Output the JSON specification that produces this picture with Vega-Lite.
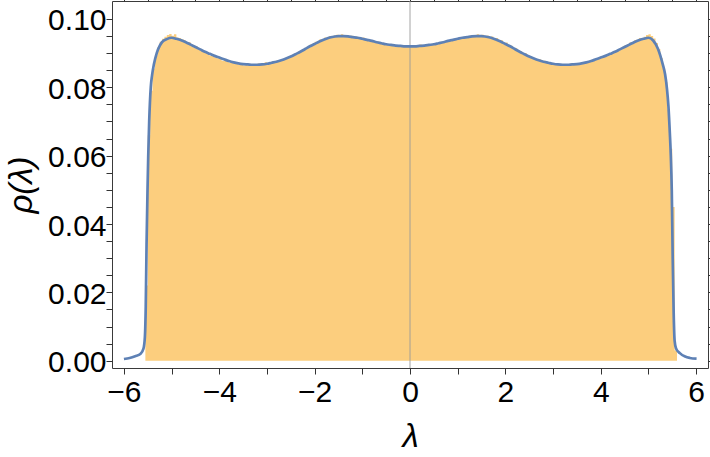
{
  "$schema": "https://vega.github.io/schema/vega-lite/v6.json",
  "width": 596,
  "height": 367,
  "autosize": {"type": "none"},
  "padding": {"left": 112, "top": 1, "right": 2, "bottom": 89},
  "background": "white",
  "config": {
    "view": {"stroke": "#3a3a3a", "strokeWidth": 1},
    "axis": {
      "grid": false, "domain": false,
      "labelFont": "Liberation Sans", "labelFontSize": 30, "labelColor": "#000",
      "titleFont": "Liberation Sans", "titleFontSize": 33, "titleFontStyle": "italic", "titleFontWeight": "normal", "titleColor": "#000",
      "tickColor": "#333", "tickWidth": 1, "tickSize": 6, "ticks": true,
      "labelOverlap": false, "labelFlush": false, "labelBound": false
    }
  },
  "datasets": {
    "hist": [
      {"x":-5.55,"p":0.022},{"x":-5.50,"p":0.066},{"x":-5.45,"p":0.079},{"x":-5.40,"p":0.0855},{"x":-5.35,"p":0.0893},
      {"x":-5.30,"p":0.0917},{"x":-5.25,"p":0.0933},{"x":-5.20,"p":0.0942},{"x":-5.15,"p":0.0948},{"x":-5.10,"p":0.0953},
      {"x":-5.05,"p":0.0956},{"x":-5.00,"p":0.0951},{"x":-4.95,"p":0.0955},{"x":-4.90,"p":0.0946},{"x":-4.85,"p":0.0944},
      {"x":-4.80,"p":0.0941},{"x":-4.75,"p":0.0938},{"x":-4.70,"p":0.0930},{"x":-4.65,"p":0.0932},{"x":-4.60,"p":0.0925},
      {"x":-4.55,"p":0.0917},{"x":-4.50,"p":0.0920},{"x":-4.45,"p":0.0911},{"x":-4.40,"p":0.0910},{"x":-4.35,"p":0.0903},
      {"x":-4.30,"p":0.0904},{"x":-4.25,"p":0.0897},{"x":-4.20,"p":0.0892},{"x":-4.15,"p":0.0894},{"x":-4.10,"p":0.0887},
      {"x":-4.05,"p":0.0885},{"x":-4.00,"p":0.0884},{"x":-3.95,"p":0.0878},{"x":-3.90,"p":0.0881},{"x":-3.85,"p":0.0875},
      {"x":-3.80,"p":0.0872},{"x":-3.75,"p":0.0874},{"x":-3.70,"p":0.0869},{"x":-3.65,"p":0.0870},{"x":-3.60,"p":0.0866},
      {"x":-3.55,"p":0.0871},{"x":-3.50,"p":0.0864},{"x":-3.45,"p":0.0866},{"x":-3.40,"p":0.0869},{"x":-3.35,"p":0.0863},
      {"x":-3.30,"p":0.0867},{"x":-3.25,"p":0.0865},{"x":-3.20,"p":0.0870},{"x":-3.15,"p":0.0866},{"x":-3.10,"p":0.0868},
      {"x":-3.05,"p":0.0873},{"x":-3.00,"p":0.0869},{"x":-2.95,"p":0.0871},{"x":-2.90,"p":0.0876},{"x":-2.85,"p":0.0874},
      {"x":-2.80,"p":0.0879},{"x":-2.75,"p":0.0877},{"x":-2.70,"p":0.0883},{"x":-2.65,"p":0.0884},{"x":-2.60,"p":0.0889},
      {"x":-2.55,"p":0.0887},{"x":-2.50,"p":0.0894},{"x":-2.45,"p":0.0896},{"x":-2.40,"p":0.0899},{"x":-2.35,"p":0.0905},
      {"x":-2.30,"p":0.0903},{"x":-2.25,"p":0.0911},{"x":-2.20,"p":0.0914},{"x":-2.15,"p":0.0917},{"x":-2.10,"p":0.0925},
      {"x":-2.05,"p":0.0926},{"x":-2.00,"p":0.0933},{"x":-1.95,"p":0.0935},{"x":-1.90,"p":0.0941},{"x":-1.85,"p":0.0940},
      {"x":-1.80,"p":0.0946},{"x":-1.75,"p":0.0944},{"x":-1.70,"p":0.0950},{"x":-1.65,"p":0.0948},{"x":-1.60,"p":0.0952},
      {"x":-1.55,"p":0.0954},{"x":-1.50,"p":0.0950},{"x":-1.45,"p":0.0955},{"x":-1.40,"p":0.0951},{"x":-1.35,"p":0.0953},
      {"x":-1.30,"p":0.0948},{"x":-1.25,"p":0.0951},{"x":-1.20,"p":0.0946},{"x":-1.15,"p":0.0949},{"x":-1.10,"p":0.0944},
      {"x":-1.05,"p":0.0943},{"x":-1.00,"p":0.0946},{"x":-0.95,"p":0.0939},{"x":-0.90,"p":0.0940},{"x":-0.85,"p":0.0935},
      {"x":-0.80,"p":0.0938},{"x":-0.75,"p":0.0931},{"x":-0.70,"p":0.0934},{"x":-0.65,"p":0.0928},{"x":-0.60,"p":0.0930},
      {"x":-0.55,"p":0.0925},{"x":-0.50,"p":0.0927},{"x":-0.45,"p":0.0922},{"x":-0.40,"p":0.0926},{"x":-0.35,"p":0.0920},
      {"x":-0.30,"p":0.0924},{"x":-0.25,"p":0.0921},{"x":-0.20,"p":0.0918},{"x":-0.15,"p":0.0923},{"x":-0.10,"p":0.0919},
      {"x":-0.05,"p":0.0922},{"x":0.00,"p":0.0920},{"x":0.05,"p":0.0923},{"x":0.10,"p":0.0919},{"x":0.15,"p":0.0921},
      {"x":0.20,"p":0.0925},{"x":0.25,"p":0.0921},{"x":0.30,"p":0.0923},{"x":0.35,"p":0.0927},{"x":0.40,"p":0.0924},
      {"x":0.45,"p":0.0926},{"x":0.50,"p":0.0930},{"x":0.55,"p":0.0926},{"x":0.60,"p":0.0931},{"x":0.65,"p":0.0933},
      {"x":0.70,"p":0.0931},{"x":0.75,"p":0.0937},{"x":0.80,"p":0.0936},{"x":0.85,"p":0.0940},{"x":0.90,"p":0.0938},
      {"x":0.95,"p":0.0943},{"x":1.00,"p":0.0942},{"x":1.05,"p":0.0946},{"x":1.10,"p":0.0944},{"x":1.15,"p":0.0949},
      {"x":1.20,"p":0.0947},{"x":1.25,"p":0.0952},{"x":1.30,"p":0.0949},{"x":1.35,"p":0.0953},{"x":1.40,"p":0.0955},
      {"x":1.45,"p":0.0951},{"x":1.50,"p":0.0954},{"x":1.55,"p":0.0950},{"x":1.60,"p":0.0952},{"x":1.65,"p":0.0947},
      {"x":1.70,"p":0.0949},{"x":1.75,"p":0.0943},{"x":1.80,"p":0.0944},{"x":1.85,"p":0.0937},{"x":1.90,"p":0.0938},
      {"x":1.95,"p":0.0930},{"x":2.00,"p":0.0931},{"x":2.05,"p":0.0923},{"x":2.10,"p":0.0922},{"x":2.15,"p":0.0914},
      {"x":2.20,"p":0.0915},{"x":2.25,"p":0.0907},{"x":2.30,"p":0.0906},{"x":2.35,"p":0.0899},{"x":2.40,"p":0.0900},
      {"x":2.45,"p":0.0893},{"x":2.50,"p":0.0891},{"x":2.55,"p":0.0888},{"x":2.60,"p":0.0886},{"x":2.65,"p":0.0881},
      {"x":2.70,"p":0.0882},{"x":2.75,"p":0.0876},{"x":2.80,"p":0.0878},{"x":2.85,"p":0.0872},{"x":2.90,"p":0.0874},
      {"x":2.95,"p":0.0869},{"x":3.00,"p":0.0871},{"x":3.05,"p":0.0866},{"x":3.10,"p":0.0869},{"x":3.15,"p":0.0864},
      {"x":3.20,"p":0.0868},{"x":3.25,"p":0.0865},{"x":3.30,"p":0.0867},{"x":3.35,"p":0.0870},{"x":3.40,"p":0.0865},
      {"x":3.45,"p":0.0869},{"x":3.50,"p":0.0867},{"x":3.55,"p":0.0871},{"x":3.60,"p":0.0869},{"x":3.65,"p":0.0873},
      {"x":3.70,"p":0.0872},{"x":3.75,"p":0.0877},{"x":3.80,"p":0.0875},{"x":3.85,"p":0.0880},{"x":3.90,"p":0.0882},
      {"x":3.95,"p":0.0884},{"x":4.00,"p":0.0889},{"x":4.05,"p":0.0888},{"x":4.10,"p":0.0894},{"x":4.15,"p":0.0896},
      {"x":4.20,"p":0.0900},{"x":4.25,"p":0.0905},{"x":4.30,"p":0.0906},{"x":4.35,"p":0.0912},{"x":4.40,"p":0.0914},
      {"x":4.45,"p":0.0919},{"x":4.50,"p":0.0923},{"x":4.55,"p":0.0925},{"x":4.60,"p":0.0931},{"x":4.65,"p":0.0932},
      {"x":4.70,"p":0.0938},{"x":4.75,"p":0.0939},{"x":4.80,"p":0.0944},{"x":4.85,"p":0.0943},{"x":4.90,"p":0.0948},
      {"x":4.95,"p":0.0953},{"x":5.00,"p":0.0955},{"x":5.05,"p":0.0950},{"x":5.10,"p":0.0943},{"x":5.15,"p":0.0930},
      {"x":5.20,"p":0.0912},{"x":5.25,"p":0.0886},{"x":5.30,"p":0.0856},{"x":5.35,"p":0.0815},{"x":5.40,"p":0.0735},
      {"x":5.45,"p":0.0620},{"x":5.50,"p":0.045},{"x":5.55,"p":0.003},{"x":5.60,"p":0}
    ],
    "curve": [
      {"x":-6.0,"p":0.0005},{"x":-5.88,"p":0.0008},{"x":-5.766,"p":0.0013},{"x":-5.65,"p":0.002},{"x":-5.59,"p":0.0035},
      {"x":-5.56,"p":0.007},{"x":-5.542,"p":0.016},{"x":-5.525,"p":0.034},{"x":-5.505,"p":0.050},{"x":-5.49,"p":0.060},
      {"x":-5.47,"p":0.070},{"x":-5.437,"p":0.080},{"x":-5.41,"p":0.0835},{"x":-5.37,"p":0.0868},{"x":-5.31,"p":0.0901},
      {"x":-5.25,"p":0.0921},{"x":-5.2,"p":0.0932},{"x":-5.1,"p":0.0941},{"x":-5.0,"p":0.0945},{"x":-4.9,"p":0.0942},
      {"x":-4.8,"p":0.0938},{"x":-4.7,"p":0.0932},{"x":-4.6,"p":0.0925},{"x":-4.5,"p":0.0918},{"x":-4.4,"p":0.0911},
      {"x":-4.3,"p":0.0904},{"x":-4.2,"p":0.0898},{"x":-4.1,"p":0.0892},{"x":-4.0,"p":0.0887},{"x":-3.9,"p":0.0882},
      {"x":-3.8,"p":0.0877},{"x":-3.7,"p":0.0873},{"x":-3.6,"p":0.0870},{"x":-3.5,"p":0.0868},{"x":-3.4,"p":0.0867},
      {"x":-3.3,"p":0.0866},{"x":-3.2,"p":0.0866},{"x":-3.1,"p":0.0867},{"x":-3.0,"p":0.0869},{"x":-2.9,"p":0.0872},
      {"x":-2.8,"p":0.0875},{"x":-2.7,"p":0.0879},{"x":-2.6,"p":0.0884},{"x":-2.5,"p":0.0890},{"x":-2.4,"p":0.0897},
      {"x":-2.3,"p":0.0904},{"x":-2.2,"p":0.0912},{"x":-2.1,"p":0.0920},{"x":-2.0,"p":0.0927},{"x":-1.9,"p":0.0934},
      {"x":-1.8,"p":0.0940},{"x":-1.7,"p":0.0945},{"x":-1.6,"p":0.0948},{"x":-1.5,"p":0.0950},{"x":-1.4,"p":0.0950},
      {"x":-1.3,"p":0.0949},{"x":-1.2,"p":0.0947},{"x":-1.1,"p":0.0945},{"x":-1.0,"p":0.0942},{"x":-0.9,"p":0.0939},
      {"x":-0.8,"p":0.0936},{"x":-0.7,"p":0.0932},{"x":-0.6,"p":0.0929},{"x":-0.5,"p":0.0926},{"x":-0.4,"p":0.0924},
      {"x":-0.3,"p":0.0922},{"x":-0.2,"p":0.0921},{"x":-0.1,"p":0.0920},{"x":0.0,"p":0.0920},{"x":0.1,"p":0.0920},
      {"x":0.2,"p":0.0921},{"x":0.3,"p":0.0922},{"x":0.4,"p":0.0924},{"x":0.5,"p":0.0926},{"x":0.6,"p":0.0929},
      {"x":0.7,"p":0.0932},{"x":0.8,"p":0.0936},{"x":0.9,"p":0.0939},{"x":1.0,"p":0.0942},{"x":1.1,"p":0.0945},
      {"x":1.2,"p":0.0947},{"x":1.3,"p":0.0949},{"x":1.4,"p":0.0950},{"x":1.5,"p":0.0950},{"x":1.6,"p":0.0948},
      {"x":1.7,"p":0.0945},{"x":1.8,"p":0.0940},{"x":1.9,"p":0.0934},{"x":2.0,"p":0.0927},{"x":2.1,"p":0.0920},
      {"x":2.2,"p":0.0912},{"x":2.3,"p":0.0904},{"x":2.4,"p":0.0897},{"x":2.5,"p":0.0890},{"x":2.6,"p":0.0884},
      {"x":2.7,"p":0.0879},{"x":2.8,"p":0.0875},{"x":2.9,"p":0.0872},{"x":3.0,"p":0.0869},{"x":3.1,"p":0.0867},
      {"x":3.2,"p":0.0866},{"x":3.3,"p":0.0866},{"x":3.4,"p":0.0867},{"x":3.5,"p":0.0868},{"x":3.6,"p":0.0870},
      {"x":3.7,"p":0.0873},{"x":3.8,"p":0.0877},{"x":3.9,"p":0.0882},{"x":4.0,"p":0.0887},{"x":4.1,"p":0.0892},
      {"x":4.2,"p":0.0898},{"x":4.3,"p":0.0904},{"x":4.4,"p":0.0911},{"x":4.5,"p":0.0918},{"x":4.6,"p":0.0925},
      {"x":4.7,"p":0.0932},{"x":4.8,"p":0.0938},{"x":4.9,"p":0.0942},{"x":5.0,"p":0.0945},{"x":5.1,"p":0.0937},
      {"x":5.2,"p":0.0913},{"x":5.25,"p":0.0893},{"x":5.3,"p":0.0868},{"x":5.35,"p":0.0838},{"x":5.39,"p":0.0795},
      {"x":5.42,"p":0.0745},{"x":5.45,"p":0.0665},{"x":5.47,"p":0.060},{"x":5.49,"p":0.050},{"x":5.51,"p":0.030},
      {"x":5.53,"p":0.014},{"x":5.55,"p":0.0058},{"x":5.58,"p":0.0036},{"x":5.66,"p":0.0022},{"x":5.77,"p":0.0012},
      {"x":5.87,"p":0.0008},{"x":6.01,"p":0.0006}
    ]
  },
  "layer": [
    {
      "data": {"name": "hist"},
      "mark": {"type": "area", "interpolate": "step-after", "color": "#FCCE7E"},
      "encoding": {
        "x": {
          "field": "x", "type": "quantitative",
          "scale": {"domain": [-6.25, 6.25], "nice": false, "zero": false},
          "axis": {
            "orient": "bottom",
            "values": [-6,-5.5,-5,-4.5,-4,-3.5,-3,-2.5,-2,-1.5,-1,-0.5,0,0.5,1,1.5,2,2.5,3,3.5,4,4.5,5,5.5,6],
            "format": "d",
            "labelExpr": "abs(datum.value % 2) < 1e-6 ? datum.label : ''",
            "labelPadding": 27, "labelBaseline": "alphabetic",
            "title": "λ", "titleY": 78.5, "titleBaseline": "alphabetic",
            "encode": {"ticks": {"update": {"y2": {"signal": "abs(datum.value % 2) < 1e-6 ? -6 : -3.5"}}}}
          }
        },
        "y": {
          "field": "p", "type": "quantitative", "stack": null,
          "scale": {"domain": [-0.00214, 0.10526], "nice": false, "zero": false},
          "axis": {
            "orient": "left",
            "values": [0,0.005,0.01,0.015,0.02,0.025,0.03,0.035,0.04,0.045,0.05,0.055,0.06,0.065,0.07,0.075,0.08,0.085,0.09,0.095,0.1],
            "format": ".2f",
            "labelExpr": "abs(round(datum.value/0.02)*0.02 - datum.value) < 1e-9 ? datum.label : ''",
            "labelPadding": 0, "labelBaseline": "alphabetic", "labelOffset": 11,
            "title": "ρ(λ)", "titleX": -80.7, "titleBaseline": "alphabetic", "titleAlign": "center",
            "encode": {"ticks": {"update": {"x2": {"signal": "abs(round(datum.value/0.02)*0.02 - datum.value) < 1e-9 ? 6 : 3.5"}}}}
          }
        }
      }
    },
    {
      "data": {"values": [{}]},
      "mark": {"type": "rule", "color": "#9a9a9a", "strokeWidth": 1.2, "opacity": 0.75},
      "encoding": {"x": {"datum": 0, "type": "quantitative", "axis": null}}
    },
    {
      "data": {"name": "curve"},
      "mark": {"type": "line", "interpolate": "monotone", "color": "#5E81B5", "strokeWidth": 2.7},
      "encoding": {
        "x": {
          "field": "x", "type": "quantitative",
          "scale": {"domain": [-6.25, 6.25], "nice": false, "zero": false},
          "axis": {
            "orient": "top", "labels": false, "title": null,
            "values": [-6,-5.5,-5,-4.5,-4,-3.5,-3,-2.5,-2,-1.5,-1,-0.5,0,0.5,1,1.5,2,2.5,3,3.5,4,4.5,5,5.5,6],
            "encode": {"ticks": {"update": {"y2": {"signal": "abs(datum.value % 2) < 1e-6 ? 6 : 3.5"}}}}
          }
        },
        "y": {
          "field": "p", "type": "quantitative",
          "scale": {"domain": [-0.00214, 0.10526], "nice": false, "zero": false},
          "axis": {
            "orient": "right", "labels": false, "title": null,
            "values": [0,0.005,0.01,0.015,0.02,0.025,0.03,0.035,0.04,0.045,0.05,0.055,0.06,0.065,0.07,0.075,0.08,0.085,0.09,0.095,0.1],
            "encode": {"ticks": {"update": {"x2": {"signal": "abs(round(datum.value/0.02)*0.02 - datum.value) < 1e-9 ? -6 : -3.5"}}}}
          }
        }
      }
    }
  ],
  "resolve": {"axis": {"x": "independent", "y": "independent"}}
}
